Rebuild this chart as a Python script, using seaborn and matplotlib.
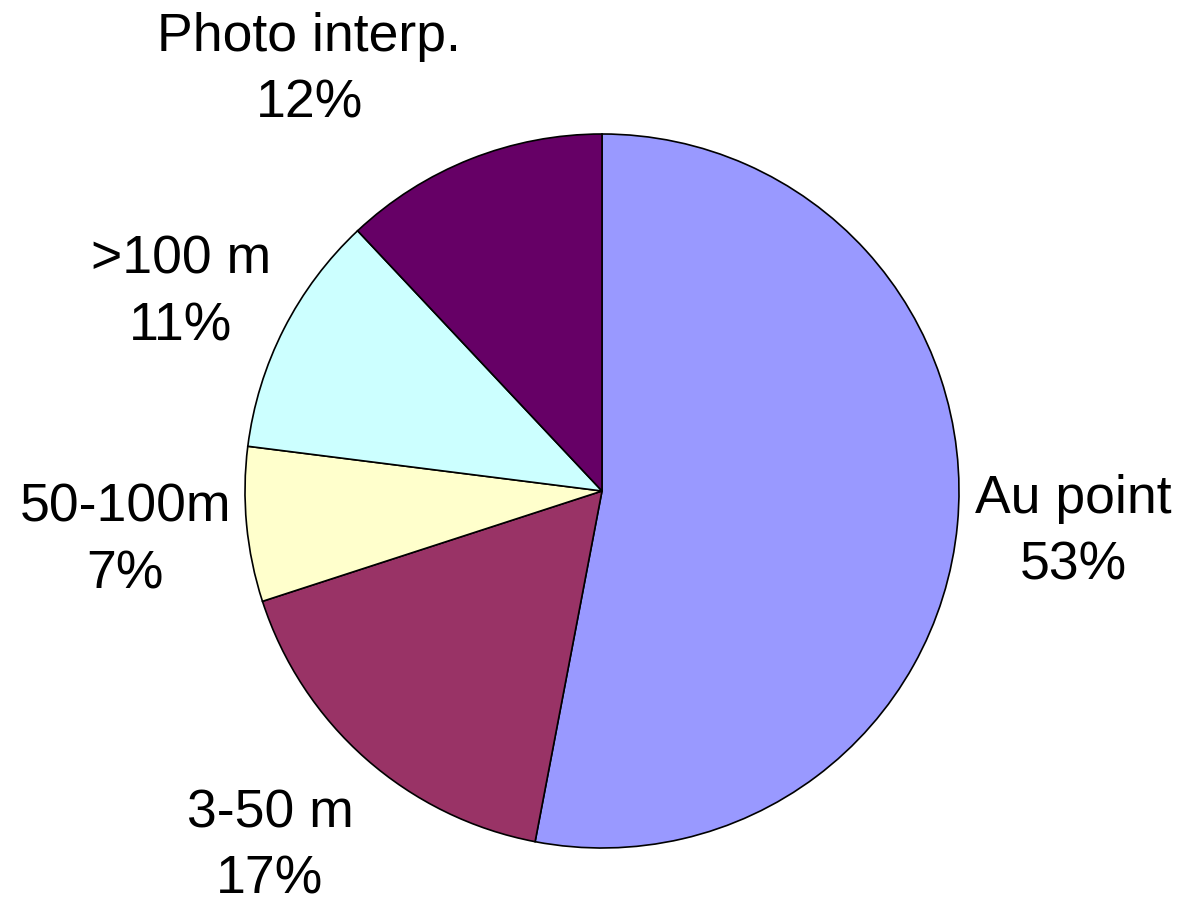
import matplotlib
matplotlib.use("Agg")
import matplotlib.pyplot as plt
import seaborn as sns

# donnees
categories = ['Au point', '3-50 m', '50-100m', '>100 m', 'Photo interp.']
percents = [53, 17, 7, 11, 12]
colors = ['#9999FF', '#993366', '#FFFFCC', '#CCFFFF', '#660066']

# position des etiquettes (en unites de rayon)
label_pos = [(1.32, -0.115), (-0.93, -0.995), (-1.335, -0.14), (-1.18, 0.555), (-0.82, 1.178)]

sns.set_theme(style='white')
plt.rcParams['font.family'] = ['Liberation Sans', 'DejaVu Sans']

fig = plt.figure(figsize=(11.88, 9.11), dpi=100)
ax = fig.add_axes([245 / 1188, 63 / 911, 714 / 1188, 714 / 911])

labels = [f"{c}\n{p}%" for c, p in zip(categories, percents)]
wedges, texts = ax.pie(percents, labels=labels, colors=colors, startangle=90,
                       counterclock=False, radius=1,
                       wedgeprops={'edgecolor': 'black', 'linewidth': 1.2},
                       textprops={'fontsize': 38.5, 'color': 'black'})

for t, pos in zip(texts, label_pos):
    t.set_position(pos)
    t.set_ha('center')
    t.set_va('center')
    t.set_multialignment('center')
    t.set_linespacing(1.42)

ax.set_xlim(-1, 1)
ax.set_ylim(-1, 1)
ax.set_aspect('equal')
ax.axis('off')

fig.savefig('out.png', dpi=100, facecolor='white')
